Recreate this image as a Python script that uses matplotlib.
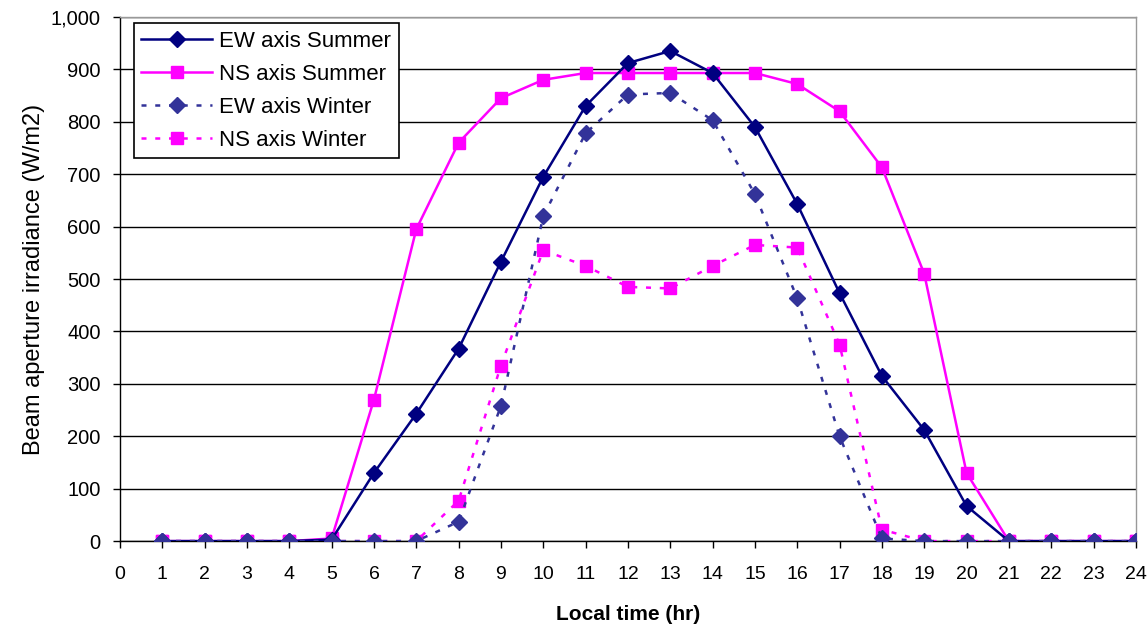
import matplotlib
matplotlib.use("Agg")
import matplotlib.pyplot as plt
from matplotlib.ticker import FuncFormatter

plt.rcParams['font.family'] = ['Liberation Sans', 'DejaVu Sans']

hours = list(range(1, 25))
ew_summer = [0, 0, 0, 0, 3, 130, 243, 367, 533, 695, 830, 912, 935, 893, 790, 643, 473, 315, 212, 67, 0, 0, 0, 0]
ns_summer = [0, 0, 0, 0, 5, 270, 595, 760, 845, 880, 893, 893, 893, 893, 893, 872, 820, 713, 510, 130, 0, 0, 0, 0]
ew_winter = [0, 0, 0, 0, 0, 0, 0, 37, 258, 620, 778, 852, 855, 803, 662, 463, 200, 5, 0, 0, 0, 0, 0, 0]
ns_winter = [0, 0, 0, 0, 0, 0, 0, 77, 335, 555, 525, 485, 482, 525, 565, 560, 375, 22, 0, 0, 0, 0, 0, 0]

fig = plt.figure(figsize=(11.47, 6.27), dpi=100)
ax = fig.add_axes([0.1046, 0.137, 0.8857, 0.836])

navy = '#000080'
blue2 = '#333399'
pink = '#FF00FF'

ax.plot(hours, ew_summer, color=navy, lw=1.8, marker='D', ms=8, mfc=navy, mec=navy, label='EW axis Summer', zorder=4)
ax.plot(hours, ns_summer, color=pink, lw=1.8, marker='s', ms=8.5, mfc=pink, mec=pink, label='NS axis Summer', zorder=3)
ax.plot(hours, ew_winter, color=blue2, lw=1.8, ls=(0, (2, 3.5)), marker='D', ms=8, mfc=blue2, mec=blue2, label='EW axis Winter', zorder=4)
ax.plot(hours, ns_winter, color=pink, lw=1.8, ls=(0, (2, 3.5)), marker='s', ms=8.5, mfc=pink, mec=pink, label='NS axis Winter', zorder=3)

ax.set_xlim(0, 24)
ax.set_ylim(0, 1000)
ax.set_xticks(range(0, 25))
ax.set_yticks(range(0, 1001, 100))
ax.yaxis.set_major_formatter(FuncFormatter(lambda v, p: f"{int(v):,}"))
ax.grid(axis='y', color='black', lw=1.0, zorder=0)
ax.set_axisbelow(True)

for s in ['top', 'right']:
    ax.spines[s].set_color('#999999')
    ax.spines[s].set_linewidth(1.0)
for s in ['left', 'bottom']:
    ax.spines[s].set_color('black')
    ax.spines[s].set_linewidth(1.0)

ax.tick_params(axis='both', direction='out', length=5, width=1, colors='black')
ax.tick_params(axis='x', pad=13, labelsize=14)
ax.tick_params(axis='y', pad=9, labelsize=14.5)

ax.set_xlabel('Local time (hr)', fontsize=15, fontweight='bold', labelpad=16)
ax.set_ylabel('Beam aperture irradiance (W/m2)', fontsize=17, labelpad=4)

leg = ax.legend(loc='upper left', bbox_to_anchor=(0.009, 0.996), fontsize=16, frameon=True,
                fancybox=False, edgecolor='black', framealpha=1, borderpad=0.35,
                handlelength=3.2, labelspacing=0.53, handletextpad=0.3, borderaxespad=0.2)
leg.get_frame().set_linewidth(1.2)

fig.savefig('out.png', dpi=100)
